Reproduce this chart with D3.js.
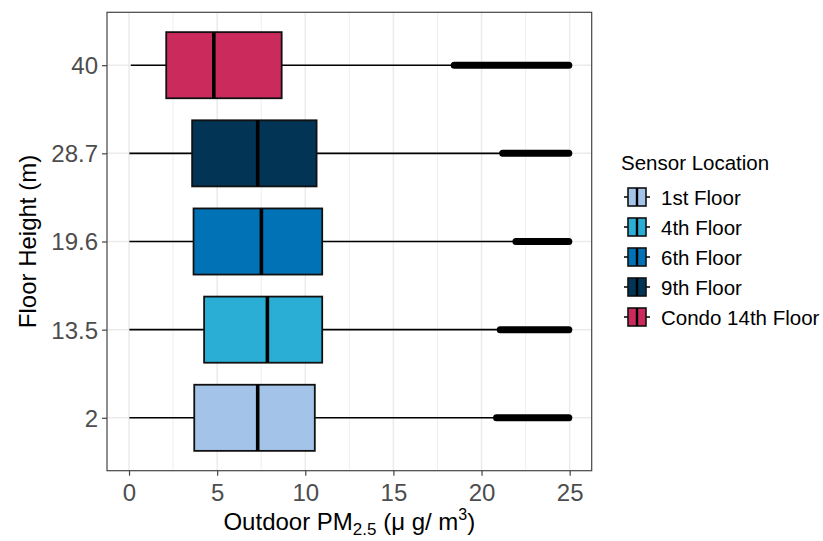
<!DOCTYPE html>
<html><head><meta charset="utf-8">
<script src="https://cdn.jsdelivr.net/npm/d3@7"></script>
<style>body{margin:0;background:#fff;} text{font-family:"Liberation Sans",Arial,sans-serif;}</style>
</head><body>
<svg id="chart" width="823" height="541"></svg>
<script>
// ---- data ----
const floors = ["2", "13.5", "19.6", "28.7", "40"];
const locations = ["1st Floor", "4th Floor", "6th Floor", "9th Floor", "Condo 14th Floor"];
const colors = ["#A3C4E8", "#2AAED6", "#0072B5", "#023456", "#CB2A5D"];
const whiskerLow = [0.02, 0.02, 0.02, 0.02, 0.1];
const q1 = [3.70, 4.26, 3.66, 3.58, 2.11];
const medians = [7.30, 7.85, 7.51, 7.30, 4.81];
const q3 = [10.54, 10.96, 10.96, 10.64, 8.66];
const whiskerHigh = [20.7, 20.9, 21.8, 21.1, 18.3];
const outlierMin = [20.85, 21.06, 21.95, 21.2, 18.45];
const outlierMax = [24.95, 24.95, 24.95, 24.95, 24.95];
const xTicks = [0, 5, 10, 15, 20, 25];
const xMinor = [2.5, 7.5, 12.5, 17.5, 22.5];

const svg = d3.select("#chart");
const P = {left: 107, right: 591.7, top: 12.3, bottom: 470.7};

const x = d3.scaleLinear().domain([-1.25, 26.25]).range([P.left, P.right]);
const y = d3.scalePoint().domain(floors.slice().reverse()).range([P.top, P.bottom]).padding(0.6);
const bh = y.step() * 0.75;

// grid
const g = svg.append("g");
g.selectAll(".minor").data(xMinor).enter().append("line")
  .attr("x1", d => x(d)).attr("x2", d => x(d)).attr("y1", P.top).attr("y2", P.bottom)
  .attr("stroke", "#EBEBEB").attr("stroke-width", 0.8);
g.selectAll(".major").data(xTicks).enter().append("line")
  .attr("x1", d => x(d)).attr("x2", d => x(d)).attr("y1", P.top).attr("y2", P.bottom)
  .attr("stroke", "#EBEBEB").attr("stroke-width", 1.5);
g.selectAll(".hmajor").data(floors).enter().append("line")
  .attr("x1", P.left).attr("x2", P.right).attr("y1", d => y(d)).attr("y2", d => y(d))
  .attr("stroke", "#EBEBEB").attr("stroke-width", 1.5);

// boxes
const data = floors.map((f, i) => ({f, i}));
const b = svg.append("g").selectAll("g").data(data).enter().append("g");
b.append("line").attr("x1", d => x(whiskerLow[d.i])).attr("x2", d => x(q1[d.i]))
  .attr("y1", d => y(d.f)).attr("y2", d => y(d.f)).attr("stroke", "#000").attr("stroke-width", 1.6);
b.append("line").attr("x1", d => x(q3[d.i])).attr("x2", d => x(whiskerHigh[d.i]))
  .attr("y1", d => y(d.f)).attr("y2", d => y(d.f)).attr("stroke", "#000").attr("stroke-width", 1.6);
b.append("line").attr("x1", d => x(outlierMin[d.i])).attr("x2", d => x(outlierMax[d.i]))
  .attr("y1", d => y(d.f)).attr("y2", d => y(d.f)).attr("stroke", "#000").attr("stroke-width", 7)
  .attr("stroke-linecap", "round");
b.append("rect").attr("x", d => x(q1[d.i])).attr("width", d => x(q3[d.i]) - x(q1[d.i]))
  .attr("y", d => y(d.f) - bh / 2).attr("height", bh)
  .attr("fill", d => colors[d.i]).attr("stroke", "#111").attr("stroke-width", 1.8);
b.append("line").attr("x1", d => x(medians[d.i])).attr("x2", d => x(medians[d.i]))
  .attr("y1", d => y(d.f) - bh / 2).attr("y2", d => y(d.f) + bh / 2)
  .attr("stroke", "#000").attr("stroke-width", 3.6);

// panel border
svg.append("rect").attr("x", P.left).attr("y", P.top).attr("width", P.right - P.left).attr("height", P.bottom - P.top)
  .attr("fill", "none").attr("stroke", "#444").attr("stroke-width", 1.2);

// axes
const xa = svg.append("g").attr("transform", `translate(0,${P.bottom})`)
  .call(d3.axisBottom(x).tickValues(xTicks).tickSize(5).tickPadding(8).tickFormat(d3.format("d")));
const ya = svg.append("g").attr("transform", `translate(${P.left},0)`)
  .call(d3.axisLeft(y).tickSize(5).tickPadding(4));
[xa, ya].forEach(a => {
  a.select(".domain").remove();
  a.selectAll(".tick line").attr("stroke", "#444").attr("stroke-width", 1.2);
  a.selectAll(".tick text").attr("fill", "#4D4D4D").style("font-size", "24px")
    .style("font-family", "'Liberation Sans',Arial,sans-serif");
});
xa.selectAll(".tick text").attr("dy", null).attr("y", 30);
ya.selectAll(".tick text").attr("dy", "0.35em");

// axis titles
const xt = svg.append("text").attr("x", (P.left + P.right) / 2).attr("y", 530)
  .attr("text-anchor", "middle").attr("fill", "#000").style("font-size", "24px");
xt.append("tspan").text("Outdoor PM");
xt.append("tspan").text("2.5").attr("dy", 5).style("font-size", "17px");
xt.append("tspan").text(" (μ g/ m").attr("dy", -5);
xt.append("tspan").text("3").attr("dy", -10).style("font-size", "16px");
xt.append("tspan").text(")").attr("dy", 10);

svg.append("text").attr("transform", `translate(36,${(P.top + P.bottom) / 2}) rotate(-90)`)
  .attr("text-anchor", "middle").attr("fill", "#000").style("font-size", "24px").text("Floor Height (m)");

// legend
const lg = svg.append("g");
lg.append("text").attr("x", 621).attr("y", 170).style("font-size", "20.5px").attr("fill", "#000").text("Sensor Location");
const ky = d3.scalePoint().domain(locations).range([197, 317]);
const ke = lg.selectAll(".k").data(locations.map((l, i) => ({l, i}))).enter().append("g");
ke.append("line").attr("x1", 624).attr("x2", 650).attr("y1", d => ky(d.l)).attr("y2", d => ky(d.l))
  .attr("stroke", "#000").attr("stroke-width", 1.5);
ke.append("rect").attr("x", 628).attr("width", 18).attr("y", d => ky(d.l) - 9).attr("height", 18)
  .attr("fill", d => colors[d.i]).attr("stroke", "#111").attr("stroke-width", 1.6);
ke.append("line").attr("x1", 637).attr("x2", 637).attr("y1", d => ky(d.l) - 9).attr("y2", d => ky(d.l) + 9)
  .attr("stroke", "#000").attr("stroke-width", 2.4);
ke.append("text").attr("x", 661).attr("y", d => ky(d.l) + 7.5).style("font-size", "20.5px").attr("fill", "#000").text(d => d.l);
</script>
</body></html>
